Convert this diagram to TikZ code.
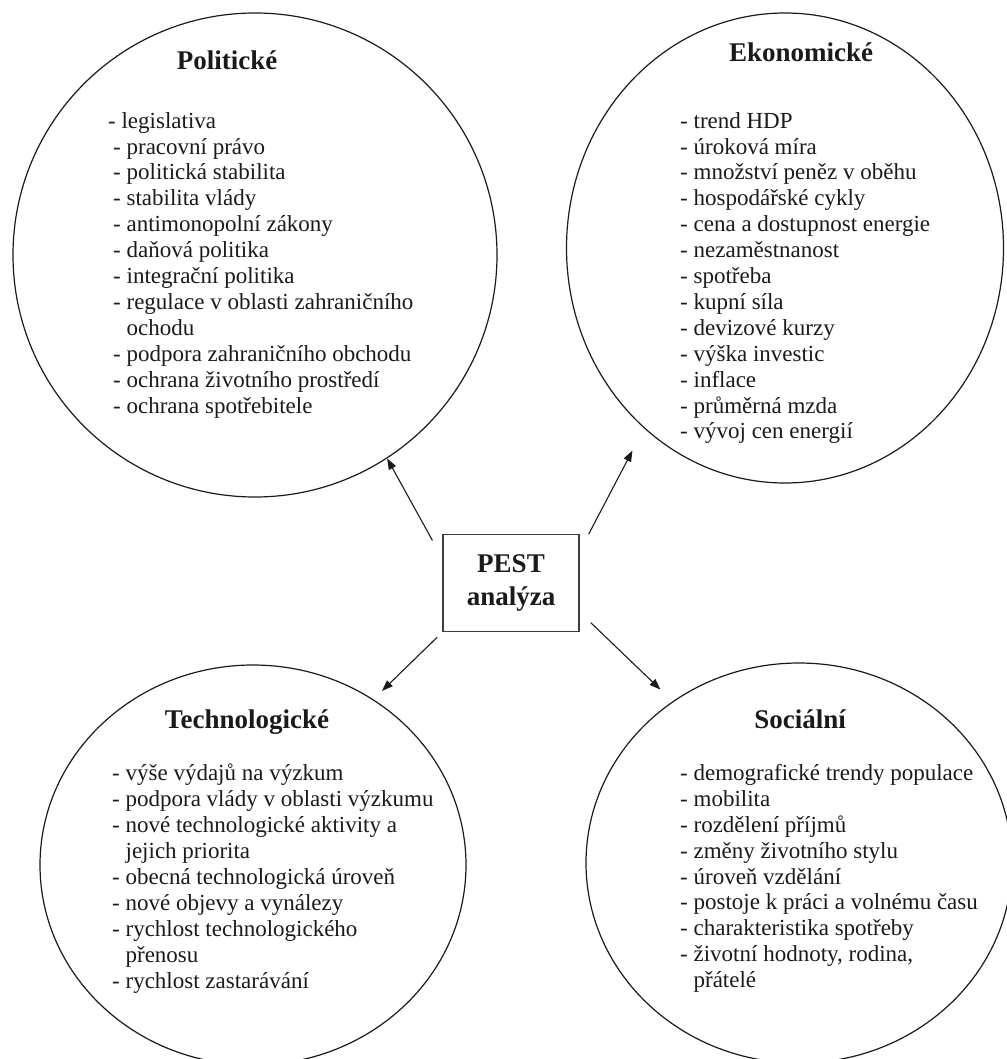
\documentclass[tikz,border=0pt]{standalone}
\usepackage{fontspec}
\setmainfont{Liberation Serif}
\usetikzlibrary{arrows.meta,positioning,shapes.geometric}
\definecolor{ink}{HTML}{1A1A1A}

\begin{document}
\begin{tikzpicture}[x=1pt,y=-1pt,
  oval/.style={draw=ink,line width=1.2pt,ellipse,inner sep=0pt},
  head/.style={font=\fontsize{27}{30}\selectfont\bfseries,text=ink,anchor=base,inner sep=0pt},
  items/.style={font=\fontsize{23}{25.9}\selectfont,text=ink,align=left,anchor=north west,inner sep=0pt},
  pestbox/.style={draw=ink!85,line width=1.8pt,minimum width=136pt,minimum height=97pt,
                  align=center,font=\fontsize{27}{33}\selectfont\bfseries,text=ink},
  conn/.style={draw=ink,line width=1.1pt,-{Triangle[length=11pt,width=8pt]}}]
  \useasboundingbox (0,0) rectangle (1006,1059);

  % the four factor groups
  \node[oval,minimum width=484pt,minimum height=484pt] (pol) at (255,255) {};
  \node[oval,minimum width=437pt,minimum height=470pt] (eko) at (785,248) {};
  \node[oval,minimum width=426pt,minimum height=400pt] (tech) at (253,865) {};
  \node[oval,minimum width=426pt,minimum height=400pt] (soc) at (799,863) {};

  \node[head] (polT) at (227,70) {Politické};
  \node[head] (ekoT) at (801,62) {Ekonomické};
  \node[head] (techT) at (247,728) {Technologické};
  \node[head] (socT) at (800,728) {Sociální};

  \node[items] (polL) at (113,112) {%
    \hspace*{-5pt}- legislativa\\
    - pracovní právo\\
    - politická stabilita\\
    - stabilita vlády\\
    - antimonopolní zákony\\
    - daňová politika\\
    - integrační politika\\
    - regulace v oblasti zahraničního\\
    \hphantom{- }ochodu\\
    - podpora zahraničního obchodu\\
    - ochrana životního prostředí\\
    - ochrana spotřebitele};

  \node[items] (ekoL) at (680,112) {%
    - trend HDP\\
    - úroková míra\\
    - množství peněz v oběhu\\
    - hospodářské cykly\\
    - cena a dostupnost energie\\
    - nezaměstnanost\\
    - spotřeba\\
    - kupní síla\\
    - devizové kurzy\\
    - výška investic\\
    - inflace\\
    - průměrná mzda\\
    - vývoj cen energií};

  \node[items] (techL) at (112,764) {%
    - výše výdajů na výzkum\\
    - podpora vlády v oblasti výzkumu\\
    - nové technologické aktivity a\\
    \hphantom{- }jejich priorita\\
    - obecná technologická úroveň\\
    - nové objevy a vynálezy\\
    - rychlost technologického\\
    \hphantom{- }přenosu\\
    - rychlost zastarávání};

  \node[items] (socL) at (680,764) {%
    - demografické trendy populace\\
    - mobilita\\
    - rozdělení příjmů\\
    - změny životního stylu\\
    - úroveň vzdělání\\
    - postoje k práci a volnému času\\
    - charakteristika spotřeby\\
    - životní hodnoty, rodina,\\
    \hphantom{- }přátelé};

  % centre box
  \node[pestbox] (pest) at (511,583) {PEST\\analýza};

  \draw[conn,shorten >=0pt,shorten <=20pt] (pest.160) -- (pol.-57);
  \draw[conn,shorten >=25pt,shorten <=19pt] (pest.25) -- (eko.232);
  \draw[conn,shorten >=12pt,shorten <=7pt] (pest.south west) -- (tech.54);
  \draw[conn,shorten >=17pt,shorten <=15pt] (pest.-23) -- (soc.128);
\end{tikzpicture}
\end{document}
